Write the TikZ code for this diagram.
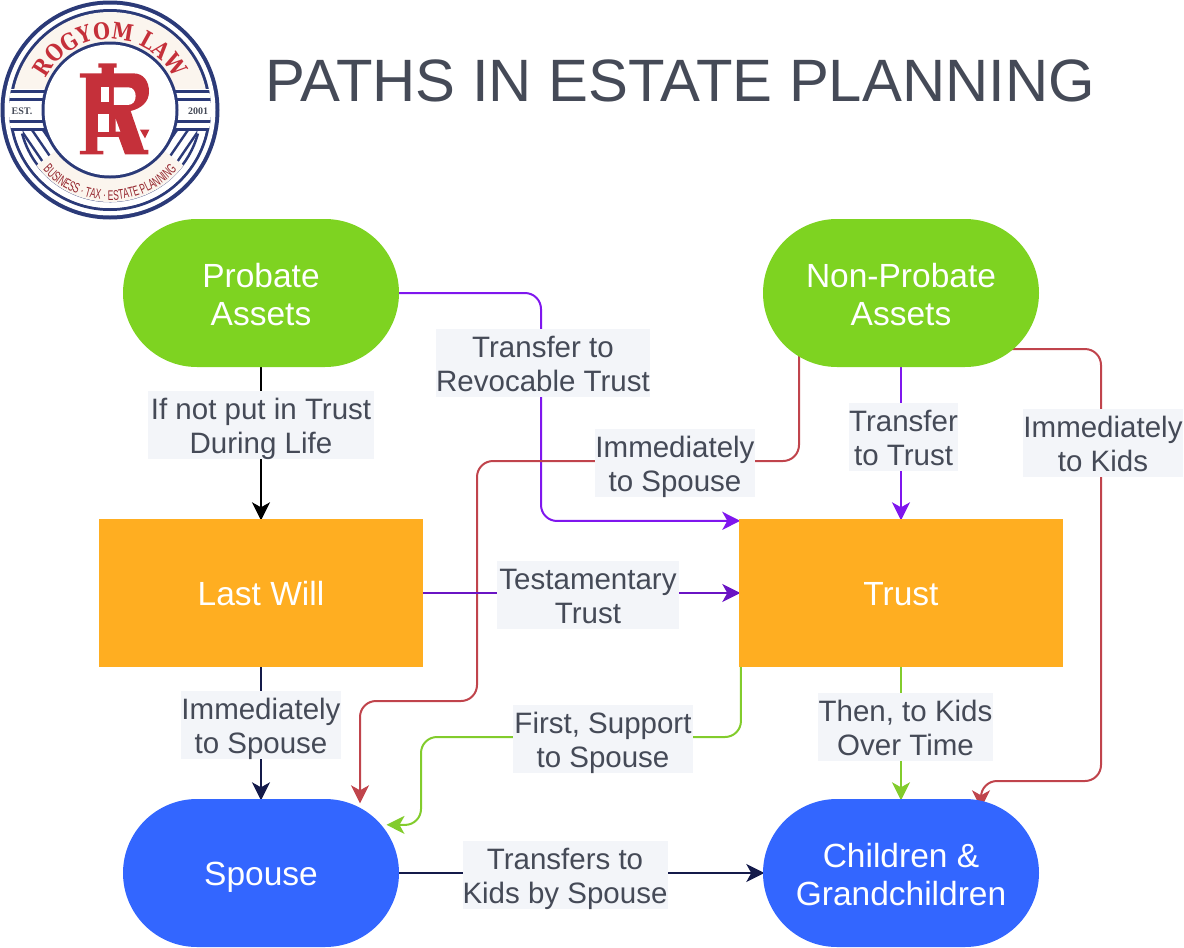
\documentclass[tikz,border=0pt]{standalone}
\usepackage{fontspec}
\usetikzlibrary{arrows.meta,calc,backgrounds,decorations.text,shapes.misc}
\setmainfont{Liberation Sans}
\newfontfamily\logoA{DejaVu Serif}[FakeStretch=0.84]
\newfontfamily\logoB{Liberation Sans}[FakeStretch=0.6]
\newfontfamily\logoC{Liberation Serif}
\definecolor{gnode}{HTML}{7ED321}
\definecolor{onode}{HTML}{FFAE21}
\definecolor{bnode}{HTML}{3366FF}
\definecolor{lbl}{HTML}{F3F5F9}
\definecolor{ink}{HTML}{454A57}
\definecolor{navy}{HTML}{141A4A}
\definecolor{purp}{HTML}{7F16EE}
\definecolor{dpurp}{HTML}{6A14C4}
\definecolor{redl}{HTML}{C0444C}
\definecolor{grnl}{HTML}{82CC2C}
\definecolor{lnavy}{HTML}{2B3A78}
\definecolor{lred}{HTML}{C5303A}
\definecolor{lcream}{HTML}{FBF5EE}
\newcommand{\twolines}[3]{\raisebox{#1}[0pt][0pt]{\begin{tabular}{@{}c@{}}#2\\#3\end{tabular}}}
\newcommand{\labtxt}[2]{\twolines{-10.9pt}{#1}{#2}}
\newcommand{\nodtxt}[2]{\twolines{-11.8pt}{#1}{#2}}
\tikzset{
  lab/.style={fill=lbl,text=ink,inner sep=0pt,align=center,minimum height=68pt,
    font=\fontsize{29.5}{34}\selectfont},
  nodetext/.style={text=white,inner sep=0pt,align=center,
    font=\fontsize{33.5}{38}\selectfont},
  oneline/.style={execute at begin node={\rule{0pt}{32pt}},
    execute at end node={\rule[-8pt]{0pt}{8pt}}},
  boxnode/.style={nodetext,oneline,fill=onode,minimum width=324pt,minimum height=148pt},
  pillnode/.style={nodetext,rounded rectangle,minimum width=276pt,minimum height=148pt},
  conn/.style={line width=2pt,rounded corners=16pt,shorten >=-1.5pt,
    -{Stealth[length=18pt,width=18pt,inset=5pt]}},
}
\begin{document}
\begin{tikzpicture}[x=1pt,y=-1pt]
\useasboundingbox (0,0) rectangle (1184,948);

% --- logo ---
\begin{scope}[shift={(110,110)},x=1pt,y=1pt]
  \fill[lnavy] (0,0) circle[radius=109.5];
  \fill[white] (0,0) circle[radius=105.5];
  \fill[lnavy] (0,0) circle[radius=101];
  \fill[lcream] (0,0) circle[radius=98];
  % lower inner ring
  \fill[white] (0,0) -- (190:98) arc[start angle=190,end angle=350,radius=98] -- cycle;
  \draw[lnavy,line width=2.5pt] (195:91) arc[start angle=195,end angle=345,radius=91];
  % hatching
  \begin{scope}
    \clip (0,0) circle[radius=90];
    \clip (-110,-21) rectangle (110,-110);
    \foreach \s in {-1,1} \foreach \d in {0,11,22,33,44,55}
      \draw[lnavy,line width=2.4pt] (\s*100-\s*\d,-20) -- ++(-\s*26,-38);
  \end{scope}
  % band for bottom text
  \fill[lcream] (217:67) arc[start angle=217,end angle=323,radius=67]
     -- (323:92) arc[start angle=323,end angle=217,radius=92] -- cycle;
  % horizontal bars
  \begin{scope}
    \clip (0,0) circle[radius=101];
    \fill[white] (-110,21) rectangle (110,-21);
    \foreach \a/\b in {20/17,12/9,-10/-13,-18/-21}
      \fill[lnavy] (-110,\a) rectangle (110,\b);
  \end{scope}
  % inner disc
  \fill[lnavy] (0,0) circle[radius=68.5];
  \fill[white] (0,0) circle[radius=65.5];
  \path[postaction={decorate},decoration={text along path,text align=center,
     text={|\logoA\bfseries\fontsize{23}{24}\selectfont\color{lred}|ROGYOM LAW}}]
     (172:71) arc[start angle=172,end angle=8,radius=71];
  \path[postaction={decorate},decoration={text along path,text align=center,
     text={|\logoB\fontsize{14}{14}\selectfont\color{lred!75!black}|BUSINESS · TAX · ESTATE PLANNING}}]
     (205:90) arc[start angle=205,end angle=335,radius=90];
  \node[inner sep=0pt,text=ink,font=\logoC\bfseries\fontsize{10}{10}\selectfont] (est) at (-88,-1) {EST.};
  \node[inner sep=0pt,text=ink,font=\logoC\bfseries\fontsize{10}{10}\selectfont] (yr) at (88,-1) {2001};
\end{scope}
\begin{scope}[shift={(70,55)},x=0.3333pt,y=-0.3333pt]
  \fill[lred] (85,25) -- (140,25) -- (140,38) -- (132,38) -- (132,55) -- (190,55)
     .. controls (222,55) and (237,80) .. (237,110)
     .. controls (237,140) and (215,160) .. (182,168)
     -- (222,285) -- (235,285) -- (235,298) -- (165,298) -- (146,246) -- (82,246)
     -- (82,288) -- (100,288) -- (100,298) -- (30,298) -- (30,288) -- (48,288)
     -- (48,68) -- (30,68) -- (30,55) -- (95,55) -- (95,38) -- (85,38) -- cycle;
  \fill[white] (92,95) rectangle (118,142);
  \fill[white] (132,97) -- (175,97) .. controls (190,97) and (197,110) .. (197,123)
     .. controls (197,140) and (188,150) .. (172,150) -- (132,150) -- cycle;
  \fill[white] (85,178) rectangle (118,230);
  \fill[white] (137,230) -- (137,192) -- (151,230) -- cycle;
  \fill[lred] (210,224) -- (238,224) -- (225,250) -- cycle;
\end{scope}

% --- title ---
\node[anchor=west,inner sep=0pt,text=ink,font=\fontsize{59.8}{64}\selectfont] (title) at (265,81) {PATHS IN ESTATE PLANNING};

% --- nodes ---
\node[pillnode,fill=gnode] (prob) at (261,293) {\nodtxt{Probate}{Assets}};
\node[pillnode,fill=gnode] (nonp) at (901,293) {\nodtxt{Non-Probate}{Assets}};
\node[boxnode] (will) at (261,593) {Last Will};
\node[boxnode] (trust) at (901,593) {Trust};
\node[pillnode,oneline,fill=bnode] (spou) at (261,873) {Spouse};
\node[pillnode,fill=bnode] (kids) at (901,873) {\nodtxt{Children \&}{Grandchildren}};

% --- connectors ---
\begin{scope}[on background layer]
  \draw[conn,draw=black] (prob.south) -- (will.north);
  \draw[conn,draw=purp] (prob.east) -- (541,293) -- (541,521) -- ($(trust.north west)+(0,2)$);
  \draw[conn,draw=purp] (nonp.south) -- (trust.north);
  \draw[conn,draw=redl] ($(nonp.south)+(-102,-14)$) -- (799,461) -- (477,461) -- (477,701) -- (360,701) -- ($(spou.north)+(99,3)$);
  \draw[conn,draw=redl] ($(nonp.south)+(104,-18)$) -- (1101,349) -- (1101,781) -- (981,781) -- ($(kids.north)+(80,8)$);
  \draw[conn,draw=dpurp] (will.east) -- (trust.west);
  \draw[conn,draw=navy] (will.south) -- (spou.north);
  \draw[conn,draw=grnl] ($(trust.south west)+(2,0)$) -- (741,737) -- (421,737) -- (421,825) -- ($(spou.north)+(127,26)$);
  \draw[conn,draw=grnl] (trust.south) -- (kids.north);
  \draw[conn,draw=navy] (spou.east) -- (kids.west);
\end{scope}

% --- labels ---
\node[lab,minimum width=226pt] (l1) at (261,425) {\labtxt{If not put in Trust}{During Life}};
\node[lab,minimum width=212pt] (l2) at (543,363) {\labtxt{Transfer to}{Revocable Trust}};
\node[lab,minimum width=160pt] (l3) at (675,463) {\labtxt{Immediately}{to Spouse}};
\node[lab,minimum width=109pt] (l4) at (903.5,437) {\labtxt{Transfer}{to Trust}};
\node[lab,minimum width=160pt] (l5) at (1103,443) {\labtxt{Immediately}{to Kids}};
\node[lab,minimum width=182pt] (l6) at (588,595) {\labtxt{Testamentary}{Trust}};
\node[lab,minimum width=160pt] (l7) at (261,725) {\labtxt{Immediately}{to Spouse}};
\node[lab,minimum width=180pt] (l8) at (603,739) {\labtxt{First, Support}{to Spouse}};
\node[lab,minimum width=175pt] (l9) at (905.5,727) {\labtxt{Then, to Kids}{Over Time}};
\node[lab,minimum width=204pt] (l10) at (565,875) {\labtxt{Transfers to}{Kids by Spouse}};
\end{tikzpicture}
\end{document}
